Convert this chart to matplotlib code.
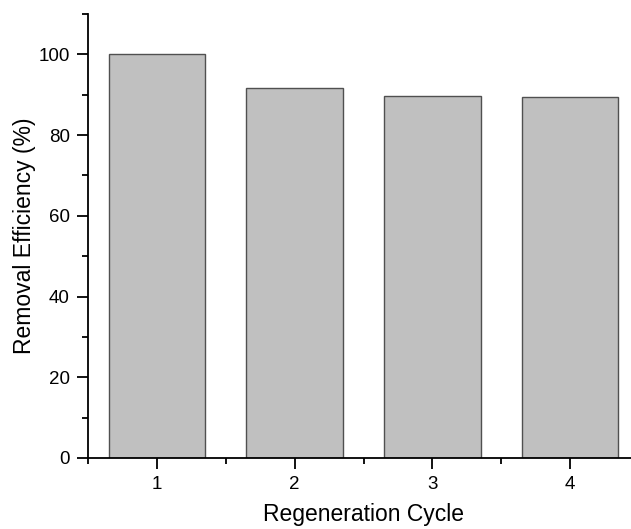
import matplotlib.pyplot as plt
from matplotlib.ticker import MultipleLocator

plt.rcParams['font.family'] = ['Liberation Sans', 'DejaVu Sans']

cycles = [1, 2, 3, 4]
efficiency = [100.0, 91.7, 89.6, 89.4]

fig = plt.figure(figsize=(6.31, 5.29), dpi=100)
ax = fig.add_axes([88 / 631, 71 / 529, 551 / 631, 444 / 529])

ax.bar(cycles, efficiency, width=0.7, color='#c0c0c0', edgecolor='#505050', linewidth=1.0)

ax.set_xlim(0.5, 4.5)
ax.set_ylim(0, 110)
ax.set_xticks(cycles)
ax.xaxis.set_minor_locator(MultipleLocator(0.5))
ax.yaxis.set_major_locator(MultipleLocator(20))
ax.yaxis.set_minor_locator(MultipleLocator(10))

for side in ['top', 'right']:
    ax.spines[side].set_visible(False)
for side in ['left', 'bottom']:
    ax.spines[side].set_linewidth(1.3)

ax.tick_params(which='major', direction='out', length=8, width=1.3, labelsize=13.5, pad=5)
ax.tick_params(which='minor', direction='out', length=4, width=1.3)

ax.set_xlabel('Regeneration Cycle', fontsize=16.5, labelpad=7)
ax.set_ylabel('Removal Efficiency (%)', fontsize=16.5, labelpad=2)

fig.savefig('out.png', dpi=100)
